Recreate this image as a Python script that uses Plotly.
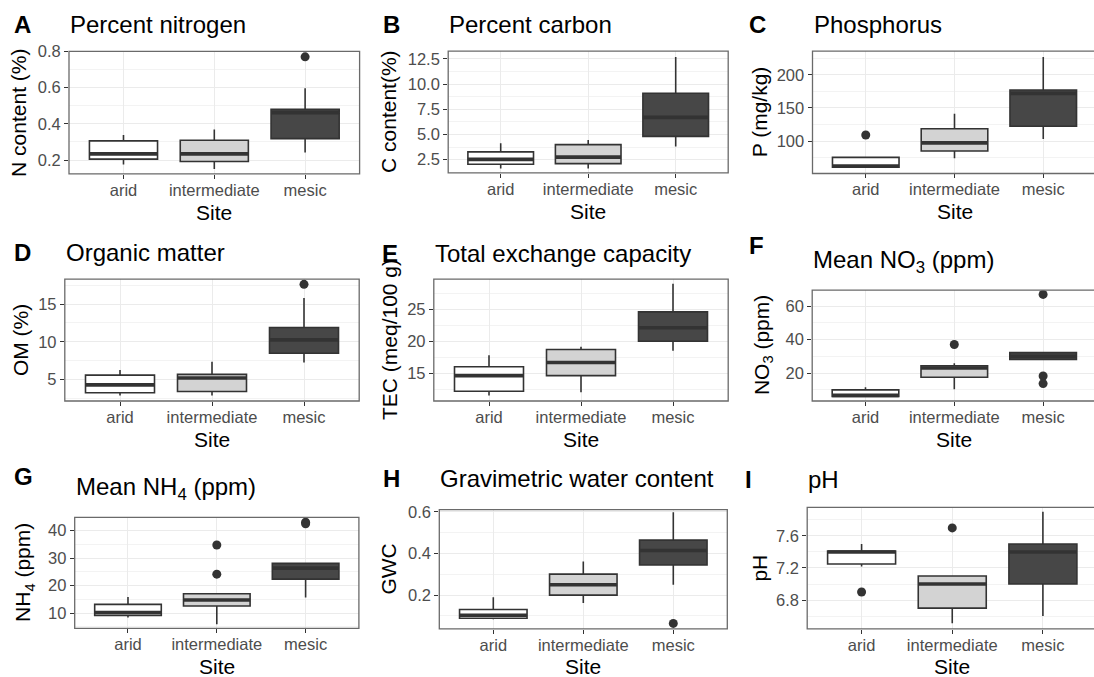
import plotly.graph_objects as go

# ---------------- data ----------------
sites = ["arid", "intermediate", "mesic"]

# A: Percent nitrogen
n_q1 = [0.205, 0.192, 0.318]
n_med = [0.234, 0.234, 0.462]
n_q3 = [0.306, 0.309, 0.480]
n_lo = [0.175, 0.151, 0.242]
n_hi = [0.338, 0.369, 0.596]
n_out_site = ["mesic"]
n_out_val = [0.77]

# B: Percent carbon
c_q1 = [2.05, 2.11, 4.82]
c_med = [2.53, 2.76, 6.70]
c_q3 = [3.28, 4.00, 9.10]
c_lo = [1.62, 1.62, 3.80]
c_hi = [4.14, 4.46, 12.70]
c_out_site = []
c_out_val = []

# C: Phosphorus
p_q1 = [60.9, 85.2, 122.6]
p_med = [62.5, 97.5, 172.0]
p_q3 = [75.7, 118.8, 177.0]
p_lo = [60.9, 74.4, 103.5]
p_hi = [75.7, 141.5, 226.8]
p_out_site = ["arid"]
p_out_val = [109.4]

# D: Organic matter
om_q1 = [3.27, 3.43, 8.48]
om_med = [4.30, 5.22, 10.26]
om_q3 = [5.60, 5.70, 11.90]
om_lo = [2.90, 2.90, 7.26]
om_hi = [6.26, 7.35, 15.80]
om_out_site = ["mesic"]
om_out_val = [17.6]

# E: Total exchange capacity
tec_q1 = [12.16, 14.6, 20.0]
tec_med = [14.6, 16.65, 22.1]
tec_q3 = [16.0, 18.7, 24.6]
tec_lo = [11.5, 12.0, 18.5]
tec_hi = [17.8, 19.14, 29.0]
tec_out_site = []
tec_out_val = []

# F: Mean NO3
no3_q1 = [6.0, 17.5, 28.1]
no3_med = [6.6, 23.0, 30.0]
no3_q3 = [9.9, 24.3, 32.2]
no3_lo = [5.8, 10.3, 28.1]
no3_hi = [11.5, 25.9, 32.6]
no3_out_site = ["intermediate", "mesic", "mesic", "mesic"]
no3_out_val = [37.1, 67.1, 18.2, 13.7]

# G: Mean NH4
nh4_q1 = [9.15, 12.6, 22.4]
nh4_med = [10.2, 14.8, 26.4]
nh4_q3 = [13.2, 17.1, 28.1]
nh4_lo = [8.4, 6.0, 15.7]
nh4_hi = [15.9, 17.1, 28.1]
nh4_out_site = ["intermediate", "intermediate", "mesic", "mesic"]
nh4_out_val = [34.8, 24.2, 43.1, 42.5]

# H: Gravimetric water content
gwc_q1 = [0.089, 0.200, 0.345]
gwc_med = [0.103, 0.250, 0.414]
gwc_q3 = [0.131, 0.301, 0.464]
gwc_lo = [0.084, 0.162, 0.250]
gwc_hi = [0.190, 0.361, 0.598]
gwc_out_site = ["mesic"]
gwc_out_val = [0.064]

# I: pH
ph_q1 = [7.25, 6.70, 7.00]
ph_med = [7.40, 7.00, 7.40]
ph_q3 = [7.41, 7.10, 7.50]
ph_lo = [7.22, 6.51, 6.60]
ph_hi = [7.50, 7.10, 7.90]
ph_out_site = ["arid", "intermediate"]
ph_out_val = [6.9, 7.7]

tags = ["A", "B", "C", "D", "E", "F", "G", "H", "I"]
titles = ["Percent nitrogen", "Percent carbon", "Phosphorus", "Organic matter",
          "Total exchange capacity", "Mean NO<sub>3</sub> (ppm)", "Mean NH<sub>4</sub> (ppm)",
          "Gravimetric water content", "pH"]
ytitles = ["N content (%)", "C content(%)", "P (mg/kg)", "OM (%)", "TEC (meq/100 g)",
           "NO<sub>3</sub> (ppm)", "NH<sub>4</sub> (ppm)", "GWC", "pH"]
xtitle = "Site"

stats = [
    (n_q1, n_med, n_q3, n_lo, n_hi, n_out_site, n_out_val),
    (c_q1, c_med, c_q3, c_lo, c_hi, c_out_site, c_out_val),
    (p_q1, p_med, p_q3, p_lo, p_hi, p_out_site, p_out_val),
    (om_q1, om_med, om_q3, om_lo, om_hi, om_out_site, om_out_val),
    (tec_q1, tec_med, tec_q3, tec_lo, tec_hi, tec_out_site, tec_out_val),
    (no3_q1, no3_med, no3_q3, no3_lo, no3_hi, no3_out_site, no3_out_val),
    (nh4_q1, nh4_med, nh4_q3, nh4_lo, nh4_hi, nh4_out_site, nh4_out_val),
    (gwc_q1, gwc_med, gwc_q3, gwc_lo, gwc_hi, gwc_out_site, gwc_out_val),
    (ph_q1, ph_med, ph_q3, ph_lo, ph_hi, ph_out_site, ph_out_val),
]

# ---------------- layout constants ----------------
W, H = 1094, 677
FONT = "Liberation Sans, Arial, Helvetica, sans-serif"
fills = ["#ffffff", "#d3d3d3", "#474747"]
LINE = "#333333"
BOXW = 0.75

# panel plot areas in px: left, top, right, bottom
panel_px = [
    (69.0, 43.0, 359.6, 167.0),
    (448.2, 42.7, 728.2, 166.0),
    (812.5, 42.7, 1096.5, 166.7),
    (64.8, 273.7, 359.2, 397.3),
    (433.8, 273.7, 728.2, 397.3),
    (812.2, 285.0, 1096.4, 397.3),
    (74.7, 515.3, 358.9, 627.7),
    (439.3, 507.3, 727.3, 628.3),
    (807.2, 505.0, 1097.3, 628.3),
]
yranges = [(0.124, 0.8), (1.2, 13.28), (51.4, 235.6), (2.17, 18.3), (10.62, 29.74),
           (3.25, 69.6), (4.5, 44.8), (0.0375, 0.611), (6.44, 7.957)]
ydticks = [0.2, 2.5, 50, 5, 5, 20, 10, 0.2, 0.4]
yfmt = [".1f", ".1f", "", "", "", "", "", ".1f", ".1f"]

tag_pos = [(12.3, 26.3), (381, 26.3), (747.3, 26.3), (12.3, 257.7), (380, 258.3),
           (747.3, 250.0), (12.3, 485.0), (381, 486.7), (743.3, 487.3)]
title_base = [26.3, 26.7, 26.3, 257.7, 258.3, 265.0, 495.0, 486.7, 487.3]
ytitle_x = [18.3, 389, 759, 20, 389, 762.5, 24, 388.3, 759.5]
xtitle_off = [39.0, 39.0, 39.0, 39.0, 39.0, 39.0, 38.5, 38.0, 38.0]

fig = go.Figure()
layout = dict(width=W, height=H, margin=dict(l=0, r=0, t=0, b=0),
              paper_bgcolor="white", plot_bgcolor="white", showlegend=False,
              boxmode="overlay", font=dict(family=FONT))
annotations = []
shapes = []

for k in range(9):
    ax = "" if k == 0 else str(k + 1)
    xref, yref = "x" + ax, "y" + ax
    left, top, right, bottom = panel_px[k]
    vis_right = min(right, W)
    frac = (vis_right - left) / (right - left)
    q1, med, q3, lo, hi, osite, oval = stats[k]

    for i, s in enumerate(sites):
        fig.add_trace(go.Box(
            x=[i], q1=[q1[i]], median=[med[i]], q3=[q3[i]],
            lowerfence=[lo[i]], upperfence=[hi[i]],
            width=BOXW, whiskerwidth=0, boxpoints=False,
            fillcolor=fills[i], line=dict(color=LINE, width=1.6),
            xaxis=xref, yaxis=yref, hoverinfo="skip"))
        fig.add_trace(go.Scatter(
            x=[i - BOXW / 2, i + BOXW / 2], y=[med[i], med[i]], mode="lines",
            line=dict(color=LINE, width=3.6), xaxis=xref, yaxis=yref, hoverinfo="skip"))
    if oval:
        fig.add_trace(go.Scatter(
            x=[sites.index(s) for s in osite], y=oval, mode="markers",
            marker=dict(color=LINE, size=9), xaxis=xref, yaxis=yref, hoverinfo="skip"))

    layout["xaxis" + ax] = dict(
        domain=[left / W, vis_right / W], anchor=yref,
        range=[-0.6, -0.6 + 3.2 * frac], tickmode="array",
        tickvals=list(range(len(sites))), ticktext=sites,
        showgrid=True, gridcolor="#ebebeb", gridwidth=1.3, zeroline=False,
        ticks="outside", ticklen=4, tickwidth=1.2, tickcolor=LINE,
        ticklabelstandoff=-3,
        tickfont=dict(size=16.5, color="#4d4d4d", family=FONT), showline=False)
    layout["yaxis" + ax] = dict(
        domain=[1 - bottom / H, 1 - top / H], anchor=xref,
        range=list(yranges[k]), tick0=0, dtick=ydticks[k], tickformat=yfmt[k],
        showgrid=True, gridcolor="#ebebeb", gridwidth=1.3, zeroline=False,
        ticks="outside", ticklen=4, tickwidth=1.2, tickcolor=LINE,
        tickfont=dict(size=16.5, color="#4d4d4d", family=FONT), showline=False,
        minor=dict(dtick=ydticks[k] / 2, tick0=0, showgrid=True,
                   gridcolor="#f3f3f3", gridwidth=0.9))
    shapes.append(dict(type="rect", xref=xref + " domain", yref=yref + " domain",
                       x0=0, x1=1 / frac, y0=0, y1=1,
                       line=dict(color="#6a6a6a", width=1.3), fillcolor="rgba(0,0,0,0)",
                       layer="above"))
    # tag letter
    tx, ty = tag_pos[k]
    annotations.append(dict(text="<b>" + tags[k] + "</b>", xref="paper", yref="paper",
                            x=tx / W, y=1 - (ty + 5) / H, xanchor="left", yanchor="bottom",
                            showarrow=False, font=dict(size=24, color="black", family=FONT)))
    # title
    extra = 4 if "<sub>" in titles[k] else 0
    annotations.append(dict(text=titles[k], xref="paper", yref="paper",
                            x=(left - 1) / W, y=1 - (title_base[k] + 5 + extra) / H,
                            xanchor="left", yanchor="bottom", showarrow=False,
                            font=dict(size=24, color="black", family=FONT)))
    # y title
    annotations.append(dict(text=ytitles[k], xref="paper", yref="paper",
                            x=ytitle_x[k] / W, y=1 - ((top + bottom) / 2) / H,
                            xanchor="center", yanchor="middle", textangle=-90,
                            showarrow=False, font=dict(size=21, color="black", family=FONT)))
    # x title
    xc = left + (right - left) * (1 + 0.6) / 3.2
    annotations.append(dict(text=xtitle, xref="paper", yref="paper",
                            x=xc / W, y=1 - (bottom + xtitle_off[k]) / H,
                            xanchor="center", yanchor="middle", borderpad=0,
                            showarrow=False, font=dict(size=21, color="black", family=FONT)))

layout["annotations"] = annotations
layout["shapes"] = shapes
fig.update_layout(**layout)
fig.write_html("out.html", config={"displayModeBar": False},
               post_script="document.body.style.margin='0px';document.body.style.overflow='hidden';")
